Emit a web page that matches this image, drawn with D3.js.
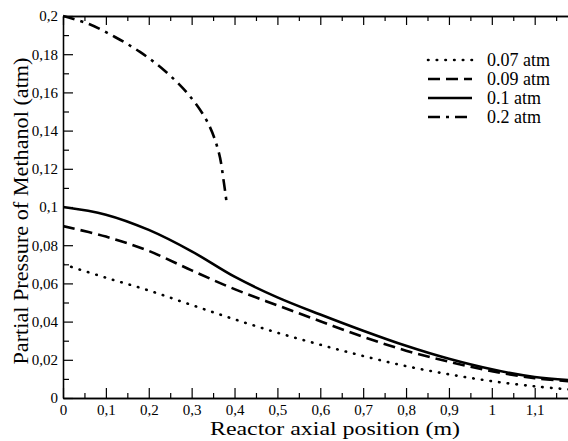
<!DOCTYPE html>
<html><head><meta charset="utf-8">
<script src="https://cdn.jsdelivr.net/npm/d3@7"></script>
<style>body{margin:0;background:#fff}svg{display:block}
text{font-family:"Liberation Serif","Times New Roman",Times,serif;}</style>
</head><body><svg id="c" width="568" height="441"></svg>
<script>
const xMajor = [0,0.1,0.2,0.3,0.4,0.5,0.6,0.7,0.8,0.9,1.0,1.1];
const xLabels = ["0","0,1","0,2","0,3","0,4","0,5","0,6","0,7","0,8","0,9","1","1,1"];
const yMajor = [0,0.02,0.04,0.06,0.08,0.1,0.12,0.14,0.16,0.18,0.2];
const yLabels = ["0","0,02","0,04","0,06","0,08","0,1","0,12","0,14","0,16","0,18","0,2"];

const seriesNames = ["0.07 atm","0.09 atm","0.1 atm","0.2 atm"];
const xs = [0,0.1,0.2,0.3,0.4,0.5,0.6,0.7,0.8,0.9,1.0,1.1,1.18];
const p007 = [0.070,0.0630,0.0563,0.0487,0.0412,0.0342,0.0279,0.0220,0.0167,0.0124,0.0088,0.0061,0.0045];
const p009 = [0.090,0.0845,0.0770,0.0668,0.0570,0.0485,0.0402,0.0320,0.0248,0.0190,0.0140,0.0104,0.0088];
const p01  = [0.100,0.0960,0.0880,0.0768,0.0635,0.0527,0.0437,0.0352,0.0273,0.0205,0.0150,0.0110,0.0094];
const x02 = [0,0.0606,0.1212,0.1795,0.2378,0.2937,0.338,0.3636,0.3753,0.3823];
const p02 = [0.2,0.1958,0.189,0.1812,0.1712,0.1586,0.144,0.1283,0.1126,0.101];

const svg = d3.select("#c");
const L=63, T=16, B=398, R=569;
const x = d3.scaleLinear().domain([0,1.18]).range([L,R]);
const y = d3.scaleLinear().domain([0,0.2]).range([B,T]);
const font = '"Liberation Serif","Times New Roman",Times,serif';

svg.append("defs").append("clipPath").attr("id","cp")
  .append("rect").attr("x",L).attr("y",T-2).attr("width",R-L).attr("height",B-T+4);

const xMinor = d3.range(0.05,1.2,0.1);
const yMinor = d3.range(0.01,0.2,0.02);

function styleAxis(g){
  g.attr("font-family",null);
  g.selectAll("path.domain").attr("stroke","#000").attr("stroke-width",1.3);
  g.selectAll(".tick line").attr("stroke","#000").attr("stroke-width",1.2);
  g.selectAll("text").style("font-family",font).attr("font-size",15).attr("fill","#000");
}
const gb = svg.append("g").attr("transform",`translate(0,${B})`)
  .call(d3.axisBottom(x).tickValues(xMajor).tickFormat((d,i)=>xLabels[i]).tickSize(-10).tickSizeOuter(0).tickPadding(6));
styleAxis(gb);
const gbm = svg.append("g").attr("transform",`translate(0,${B})`)
  .call(d3.axisBottom(x).tickValues(xMinor).tickFormat("").tickSize(-5).tickSizeOuter(0));
styleAxis(gbm);
const gt = svg.append("g").attr("transform",`translate(0,${T})`)
  .call(d3.axisTop(x).tickValues(xMajor).tickFormat("").tickSize(-9).tickSizeOuter(0));
styleAxis(gt);
const gtm = svg.append("g").attr("transform",`translate(0,${T})`)
  .call(d3.axisTop(x).tickValues(xMinor).tickFormat("").tickSize(-5).tickSizeOuter(0));
styleAxis(gtm);
const gl = svg.append("g").attr("transform",`translate(${L},0)`)
  .call(d3.axisLeft(y).tickValues(yMajor).tickFormat((d,i)=>yLabels[i]).tickSize(-10).tickSizeOuter(0).tickPadding(5));
styleAxis(gl);
const glm = svg.append("g").attr("transform",`translate(${L},0)`)
  .call(d3.axisLeft(y).tickValues(yMinor).tickFormat("").tickSize(-6).tickSizeOuter(0));
styleAxis(glm);

svg.append("text").attr("x",335).attr("y",435).attr("text-anchor","middle")
  .style("font-family",font).attr("font-size",19)
  .attr("textLength",250).attr("lengthAdjust","spacingAndGlyphs")
  .text("Reactor axial position (m)");
svg.append("text").attr("transform","translate(28,211) rotate(-90)").attr("text-anchor","middle")
  .style("font-family",font).attr("font-size",20)
  .attr("textLength",307).attr("lengthAdjust","spacingAndGlyphs")
  .text("Partial Pressure of Methanol (atm)");

const dashes = ["0.5,8.2","12,6",null,"12,6,3,6"];
const caps = ["round","butt","butt","butt"];
const data = [
  xs.map((d,i)=>[d,p007[i]]),
  xs.map((d,i)=>[d,p009[i]]),
  xs.map((d,i)=>[d,p01[i]]),
  x02.map((d,i)=>[d,p02[i]])
];
const line = d3.line().x(d=>x(d[0])).y(d=>y(d[1])).curve(d3.curveCatmullRom.alpha(0.5));
const gLines = svg.append("g").attr("clip-path","url(#cp)");
data.forEach((s,i)=>{
  gLines.append("path").attr("d",line(s)).attr("fill","none").attr("stroke","#000")
    .attr("stroke-width",2.6).attr("stroke-dasharray",dashes[i]).attr("stroke-linecap",caps[i]);
});

const lg = svg.append("g");
seriesNames.forEach((n,i)=>{
  const yy = 60 + i*19;
  lg.append("line").attr("x1",428).attr("x2",472).attr("y1",yy).attr("y2",yy)
    .attr("stroke","#000").attr("stroke-width",2.6).attr("stroke-dasharray",dashes[i]).attr("stroke-linecap",caps[i]);
  lg.append("text").attr("x",487).attr("y",yy+6).style("font-family",font).attr("font-size",18).text(n);
});
</script></body></html>
